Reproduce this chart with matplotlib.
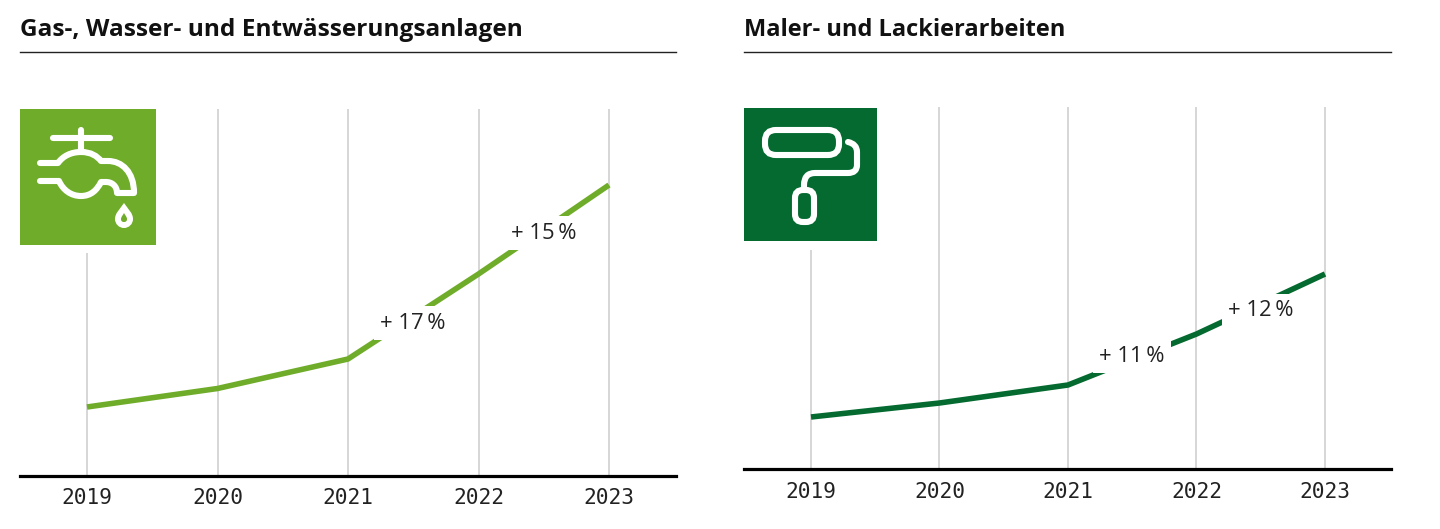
import matplotlib
matplotlib.use("Agg")
import matplotlib.pyplot as plt
from matplotlib.path import Path
from matplotlib.patches import PathPatch, FancyBboxPatch, Rectangle

W, H = 1440, 529

years = [2019, 2020, 2021, 2022, 2023]
title_left = "Gas-, Wasser- und Entwässerungsanlagen"
title_right = "Maler- und Lackierarbeiten"
values_left = [69, 87.5, 117, 202, 291]
values_right = [52, 66, 84, 135, 195]
labels_left = ["+ 17\u2009%", "+ 15\u2009%"]
labels_right = ["+ 11\u2009%", "+ 12\u2009%"]

GREEN_L = "#6fac2a"
GREEN_R = "#046a30"
GRID = "#cccccc"


def px_axes(x0, x1, ytop, ybottom):
    return fig.add_axes([x0 / W, 1 - ybottom / H, (x1 - x0) / W, (ybottom - ytop) / H])


def panel(box, x_first, x_last, short_top, values, labels, color, label_pos):
    x0, x1, ytop, ybottom = box
    ax = px_axes(x0, x1, ytop, ybottom)
    step = (x_last - x_first) / 4
    ax.set_xlim(2019 - (x_first - x0) / step, 2023 + (x1 - x_last) / step)
    ax.set_ylim(0, ybottom - ytop)
    for s in ["top", "left", "right"]:
        ax.spines[s].set_visible(False)
    ax.spines["bottom"].set_linewidth(2.3)
    ax.patch.set_alpha(0)
    ax.set_yticks([])
    ax.set_xticks(years)
    ax.set_xticklabels(years, family="DejaVu Sans Mono", fontsize=15.2, color="#222222")
    ax.tick_params(axis="x", length=0, pad=9)
    ax.vlines(years[0], 0, ybottom - short_top, color=GRID, lw=1.1, zorder=1)
    ax.vlines(years[1:], 0, ybottom - ytop, color=GRID, lw=1.1, zorder=1)
    ax.plot(years, values, color=color, lw=4.0, zorder=2,
            solid_capstyle="butt", solid_joinstyle="round")
    for (lx, ly), txt in zip(label_pos, labels):
        ax.text(lx, ly, txt, family=["Open Sans", "DejaVu Sans"], fontsize=15.8,
                color="#222222", ha="center", va="center", zorder=3,
                bbox=dict(facecolor="white", edgecolor="none", pad=4.5))
    return ax


fig = plt.figure(figsize=(W / 100, H / 100), dpi=100, facecolor="white")

panel((20, 676, 109, 476), 87, 609, 253, values_left, labels_left, GREEN_L,
      [(2021.5, 153), (2022.5, 243)])
panel((744, 1391, 107, 469), 811, 1325, 250, values_right, labels_right, GREEN_R,
      [(2021.5, 113), (2022.5, 158)])

# overlay in pixel coordinates for titles, rules and the two icons
ov = fig.add_axes([0, 0, 1, 1], zorder=10)
ov.set_xlim(0, W)
ov.set_ylim(H, 0)
ov.axis("off")

ov.text(20, 30, title_left, family="Open Sans", fontweight="bold", fontsize=17.6,
        color="#111111", va="center")
ov.text(744, 30, title_right, family="Open Sans", fontweight="bold", fontsize=17.0,
        color="#111111", va="center")
ov.plot([20, 676], [52, 52], color="#222222", lw=1)
ov.plot([744, 1391], [52, 52], color="#222222", lw=1)

ov.add_patch(Rectangle((20, 109), 136, 136, facecolor=GREEN_L, edgecolor="none"))
ov.add_patch(Rectangle((744, 108), 133, 133, facecolor=GREEN_R, edgecolor="none"))


def stroke(verts, codes, lw=4.4):
    ov.add_patch(PathPatch(Path(verts, codes), facecolor="none", edgecolor="white",
                           lw=lw, capstyle="round", joinstyle="round"))


M, L, Q, C = Path.MOVETO, Path.LINETO, Path.CURVE3, Path.CURVE4

# tap
stroke([(53, 138), (110, 138)], [M, L])
stroke([(81, 130), (81, 152)], [M, L])
stroke([(40, 163), (58, 163), (63, 156), (71, 152), (81, 152), (91, 152), (97, 156),
        (101, 161), (108, 161), (122, 161), (134, 172), (134, 193), (117, 193),
        (117, 186), (112, 182), (106, 182), (101, 182), (97, 190), (91, 196), (81, 196),
        (71, 196), (63, 190), (59, 181), (40, 181)],
       [M, L, C, C, C, C, C, C, L, C, C, C, L, C, C, C, L, C, C, C, C, C, C, L])
# drop
ov.add_patch(PathPatch(Path(
    [(124, 203), (120, 209), (115, 213), (115, 219), (115, 224), (119, 228), (124, 228),
     (129, 228), (133, 224), (133, 219), (133, 213), (128, 209), (124, 203), (124, 203)],
    [M, C, C, C, C, C, C, C, C, C, C, C, C, Path.CLOSEPOLY]),
    facecolor="white", edgecolor="none"))
ov.add_patch(PathPatch(Path(
    [(124, 213), (123, 215), (121, 217), (121, 219), (121, 221), (122, 222), (124, 222),
     (126, 222), (127, 221), (127, 219), (127, 217), (125, 215), (124, 213), (124, 213)],
    [M, C, C, C, C, C, C, C, C, C, C, C, C, Path.CLOSEPOLY]),
    facecolor=GREEN_L, edgecolor="none"))

# paint roller
ov.add_patch(FancyBboxPatch((765, 130), 74, 25, boxstyle="round,pad=0,rounding_size=11",
                            facecolor="none", edgecolor="white", lw=4.4))
ov.add_patch(FancyBboxPatch((795, 190), 19, 32, boxstyle="round,pad=0,rounding_size=8",
                            facecolor="none", edgecolor="white", lw=4.4))
stroke([(848, 142), (857, 144), (857, 152), (857, 165), (857, 173), (848, 173),
        (815, 173), (804, 173), (804, 185), (804, 190)],
       [M, Q, Q, L, Q, Q, L, Q, Q, L])

fig.savefig("out.png", dpi=100)
